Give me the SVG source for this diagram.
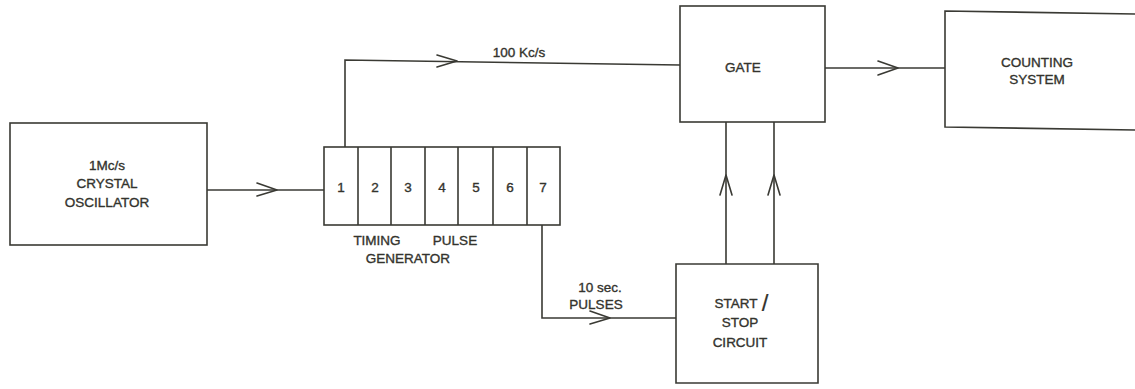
<svg xmlns="http://www.w3.org/2000/svg" width="1135" height="389" viewBox="0 0 1135 389">
<style>
.box{fill:none;stroke:#3a3a34;stroke-width:1.6}
.ln{fill:none;stroke:#3a3a34;stroke-width:1.6}
.ah{fill:none;stroke:#3a3a34;stroke-width:1.6;stroke-linecap:round;stroke-linejoin:round}
text{font-family:"Liberation Sans","DejaVu Sans",sans-serif;font-size:13.5px;fill:#33332d;stroke:#33332d;stroke-width:0.35;text-anchor:middle}
text.slash{font-size:24px;stroke-width:0.2}
</style>
<rect width="1135" height="389" fill="#ffffff"/>
<g id="crystal-oscillator">
<rect class="box" x="10" y="123" width="197" height="122"/>
<text x="107" y="170">1Mc/s</text>
<text x="107" y="188">CRYSTAL</text>
<text x="107" y="207">OSCILLATOR</text>
</g>
<g id="timing-pulse-generator">
<rect class="box" x="324" y="147" width="236" height="78"/>
<path class="ln" d="M358 147V225M391 147V225M425 147V225M458 147V225M493 147V225M527 147V225"/>
<text x="341" y="192">1</text>
<text x="375" y="192">2</text>
<text x="408" y="192">3</text>
<text x="442" y="192">4</text>
<text x="476" y="192">5</text>
<text x="510" y="192">6</text>
<text x="543" y="192">7</text>
<text x="377" y="245">TIMING</text>
<text x="455" y="245">PULSE</text>
<text x="408" y="263">GENERATOR</text>
</g>
<g id="gate">
<rect class="box" x="680" y="6" width="145" height="116"/>
<text x="743" y="72">GATE</text>
</g>
<g id="counting-system">
<path class="box" d="M1135 14L945 11V127L1135 130"/>
<text x="1037" y="67">COUNTING</text>
<text x="1037" y="84">SYSTEM</text>
</g>
<g id="start-stop-circuit">
<path class="box" d="M818 264H676V383H818Z"/>
<text x="736" y="308">START</text>
<text class="slash" x="765" y="311">/</text>
<text x="740" y="327">STOP</text>
<text x="740" y="347">CIRCUIT</text>
</g>
<g id="connectors">
<path class="ln" d="M207 190H324"/>
<path class="ah" d="M257 183L277 190L257 196"/>
<path class="ln" d="M345 147V60L680 65"/>
<path class="ah" d="M437 55L457 61L437 67"/>
<text x="519" y="57">100 Kc/s</text>
<path class="ln" d="M825 68H945"/>
<path class="ah" d="M878 61L898 68L878 75"/>
<path class="ln" d="M542 225V318H676"/>
<path class="ah" d="M590 311L610 318L590 324"/>
<text x="600" y="292">10 sec.</text>
<text x="596" y="309">PULSES</text>
<path class="ln" d="M726 264V122M774 264V122"/>
<path class="ah" d="M720 195L726 175L732 195"/>
<path class="ah" d="M768 195L774 175L780 195"/>
</g>
</svg>
